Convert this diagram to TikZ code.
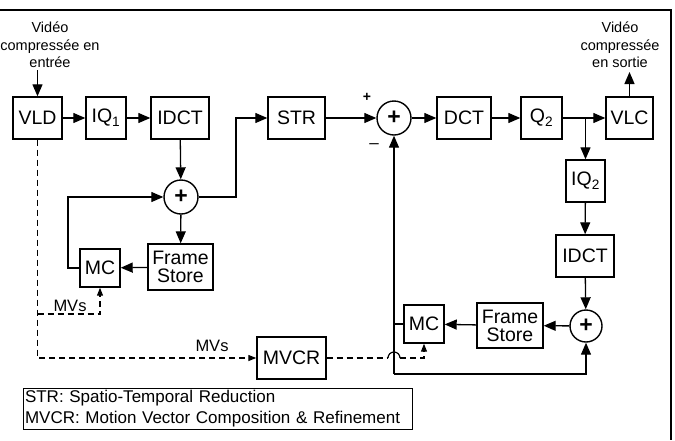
\documentclass[tikz,border=0pt]{standalone}
\usepackage{fontspec}
\setmainfont{Liberation Sans}
\usetikzlibrary{arrows.meta}
\begin{document}
\begin{tikzpicture}[x=1pt,y=-1pt,
  blk/.style={draw,line width=1.4pt,minimum height=42pt,inner sep=0pt,font=\fontsize{19.5}{21}\selectfont,align=center},
  sumn/.style={draw,circle,line width=1.4pt,minimum size=34pt,inner sep=0pt,font=\fontsize{23}{23}\selectfont\bfseries},
  lbl/.style={font=\fontsize{14.5}{17.5}\selectfont,align=center,inner sep=0pt},
  mvs/.style={font=\fontsize{16.5}{17}\selectfont,inner sep=0pt},
  ln/.style={line width=1.3pt},
  arr/.style={line width=1.3pt,-{Triangle[length=12pt,width=10pt]}},
  darr/.style={line width=1.2pt,dash pattern=on 6pt off 4pt,-{Triangle[length=8pt,width=6pt]}},
  dln/.style={line width=1.2pt,dash pattern=on 6pt off 4pt}]
\useasboundingbox (0,0) rectangle (675,440);
% frame
\draw[line width=1.2pt] (0,10) -- (671,10) -- (671,440);
% top row
\node[lbl] (intext) at (50,45) {Vidéo\\compressée en\\entrée};
\node[blk,minimum width=49pt] (vld) at (37.5,118) {VLD};
\node[blk,minimum width=40pt] (iq1) at (106,118) {IQ\textsubscript{1}};
\node[blk,minimum width=58pt] (idct1) at (180,118) {IDCT};
\node[blk,minimum width=57pt] (str) at (296.5,118) {STR};
\node[sumn] (sum2) at (394,118) {+};
\node[blk,minimum width=54pt] (dct) at (464,118) {DCT};
\node[blk,minimum width=41pt] (q2) at (541.5,118) {Q\textsubscript{2}};
\node[blk,minimum width=47pt] (vlc) at (629.5,118) {VLC};
\node[lbl] (outtext) at (620,45) {Vidéo\\compressée\\en sortie};
\node[font=\fontsize{14}{14}\selectfont\bfseries,inner sep=0pt] (plus) at (367,97) {+};
\node[font=\fontsize{17}{17}\selectfont,inner sep=0pt] (minus) at (374,146) {–};
% left loop
\node[sumn] (sum1) at (181,197) {+};
\node[blk,minimum width=65pt,minimum height=46pt] (fs1) at (180.5,267) {Frame\\[-3pt]Store};
\node[blk,minimum width=40pt,minimum height=38pt] (mc1) at (100,268) {MC};
% right loop
\node[blk,minimum width=39pt] (iq2) at (585.5,181) {IQ\textsubscript{2}};
\node[blk,minimum width=58pt] (idct2) at (585,256) {IDCT};
\node[sumn,minimum size=32pt] (sum3) at (586,326) {+};
\node[blk,minimum width=66pt,minimum height=45pt] (fs2) at (510,325.5) {Frame\\[-3pt]Store};
\node[blk,minimum width=40pt,minimum height=38pt] (mc2) at (424,324) {MC};
% MVCR
\node[blk,minimum width=69pt] (mvcr) at (291.5,358) {MVCR};
\node[mvs] (mvs1) at (70,306) {MVs};
\node[mvs] (mvs2) at (212,346) {MVs};
% legend
\node[draw,line width=0.9pt,minimum width=389pt,minimum height=41pt,text width=385pt,align=left,inner sep=2pt,font=\fontsize{17}{21}\selectfont] (legend) at (217.5,408.5) {STR: Spatio-Temporal Reduction\\MVCR: Motion Vector Composition \& Refinement};
% coordinates
\coordinate (intip) at (37.5,70);
\coordinate (outtip) at (629.5,72);
\coordinate (s1turn) at (236,197);
\coordinate (fb1) at (68,268);
\coordinate (branch) at (585.5,118);
\coordinate (mc2left) at (394,324);
\coordinate (bot) at (394,374);
\coordinate (dbranch) at (37.5,314);
\coordinate (hopA) at (388,358);
\coordinate (hopB) at (400,358);
% connectors top
\draw[arr] (intip) -- (vld.north);
\draw[arr] (vld) -- (iq1);
\draw[arr] (iq1) -- (idct1);
\draw[arr] (idct1) -- (sum1);
\draw[arr] (sum1.east) -- (s1turn) |- (str.west);
\draw[arr] (str) -- (sum2);
\draw[arr] (sum2) -- (dct);
\draw[arr] (dct) -- (q2);
\draw[arr] (q2) -- (vlc);
\draw[arr] (branch) -- (iq2.north);
\draw[arr] (vlc.north) -- (outtip);
% left loop
\draw[arr] (sum1) -- (fs1);
\draw[arr] (fs1) -- (mc1);
\draw[arr] (mc1.west) -- (fb1) |- (sum1.west);
% right loop
\draw[arr] (iq2) -- (idct2);
\draw[arr] (idct2) -- (sum3);
\draw[arr] (sum3) -- (fs2);
\draw[arr] (fs2) -- (mc2);
\draw[ln] (mc2.west) -- (mc2left);
\draw[arr] (bot) -- (sum2.south);
\draw[arr] (bot) -| (sum3.south);
% dashed motion vectors
\draw[darr] (vld.south) |- (mvcr.west);
\draw[darr] (dbranch) -| (mc1.south);
\draw[dln] (mvcr.east) -- (hopA);
\draw[line width=1.2pt] (hopA) arc[start angle=180,end angle=0,radius=6pt];
\draw[darr] (hopB) -| (mc2.south);
\end{tikzpicture}
\end{document}
